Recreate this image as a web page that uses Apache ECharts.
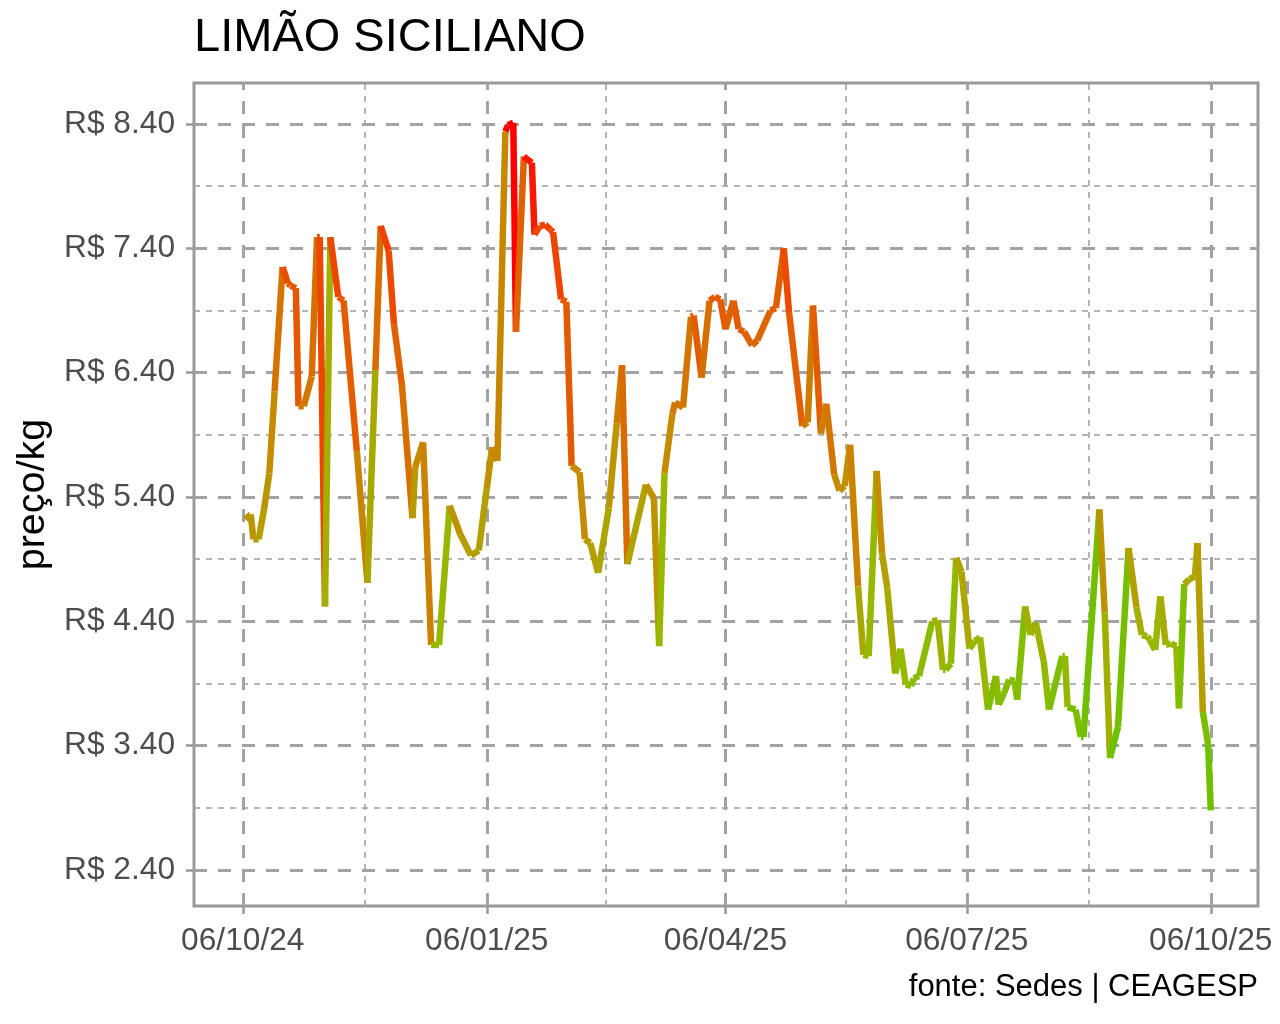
<!DOCTYPE html>
<html>
<head>
<meta charset="utf-8">
<script src="https://cdn.jsdelivr.net/npm/echarts@6/dist/echarts.min.js"></script>
<style>
  html, body { margin: 0; padding: 0; background: #fff; }
  #chart { width: 1280px; height: 1024px; }
</style>
</head>
<body>
<div id="chart"></div>
<script>
// ---- data ----
const dates = [
  '2024-10-07','2024-10-09','2024-10-10','2024-10-12','2024-10-14','2024-10-16','2024-10-18','2024-10-21','2024-10-23','2024-10-24',
  '2024-10-26','2024-10-27','2024-10-29','2024-11-01','2024-11-03','2024-11-04','2024-11-06','2024-11-08','2024-11-11','2024-11-13',
  '2024-11-18','2024-11-22','2024-11-25','2024-11-27','2024-11-30','2024-12-02','2024-12-05','2024-12-09','2024-12-10','2024-12-13',
  '2024-12-16','2024-12-19','2024-12-23','2024-12-27','2024-12-31','2025-01-03','2025-01-06','2025-01-08','2025-01-10','2025-01-13',
  '2025-01-14','2025-01-16','2025-01-17','2025-01-20','2025-01-21','2025-01-23','2025-01-24','2025-01-26','2025-01-28','2025-01-30',
  '2025-01-31','2025-02-03','2025-02-05','2025-02-07','2025-02-10','2025-02-12','2025-02-14','2025-02-17','2025-02-21','2025-02-24',
  '2025-02-26','2025-02-28','2025-03-07','2025-03-10','2025-03-12','2025-03-14','2025-03-17','2025-03-18','2025-03-21','2025-03-24',
  '2025-03-25','2025-03-28','2025-03-31','2025-04-02','2025-04-04','2025-04-06','2025-04-09','2025-04-11','2025-04-13','2025-04-16',
  '2025-04-18','2025-04-23','2025-04-25','2025-04-28','2025-04-30','2025-05-05','2025-05-07','2025-05-09','2025-05-12','2025-05-14',
  '2025-05-17','2025-05-19','2025-05-21','2025-05-23','2025-05-26','2025-05-28','2025-05-30','2025-06-02','2025-06-04','2025-06-06',
  '2025-06-09','2025-06-11','2025-06-13','2025-06-15','2025-06-16','2025-06-18','2025-06-23','2025-06-25','2025-06-27','2025-06-28',
  '2025-06-30','2025-07-02','2025-07-04','2025-07-07','2025-07-09','2025-07-11','2025-07-14','2025-07-17','2025-07-18','2025-07-20',
  '2025-07-22','2025-07-24','2025-07-25','2025-07-28','2025-07-30','2025-08-01','2025-08-04','2025-08-06','2025-08-11','2025-08-12',
  '2025-08-13','2025-08-16','2025-08-18','2025-08-19','2025-08-25','2025-08-27','2025-08-29','2025-09-01','2025-09-05','2025-09-08',
  '2025-09-10','2025-09-12','2025-09-13','2025-09-15','2025-09-17','2025-09-19','2025-09-21','2025-09-23','2025-09-24','2025-09-26',
  '2025-09-28','2025-09-30','2025-10-01','2025-10-03','2025-10-05','2025-10-06'
];
const prices = [
  5.22, 5.26, 5.06, 5.06, 5.30, 5.59, 6.25, 7.25, 7.12, 7.10,
  7.08, 6.13, 6.13, 6.37, 7.49, 7.49, 4.52, 7.49, 7.01, 6.98,
  5.77, 4.71, 6.42, 7.58, 7.38, 6.79, 6.30, 5.23, 5.64, 5.84,
  4.21, 4.21, 5.33, 5.10, 4.93, 4.97, 5.47, 5.80, 5.69, 8.34,
  8.39, 8.41, 6.73, 8.14, 8.12, 8.09, 7.51, 7.58, 7.59, 7.55,
  7.53, 6.99, 6.97, 5.65, 5.60, 5.06, 5.03, 4.79, 5.31, 5.99,
  6.46, 4.86, 5.50, 5.39, 4.20, 5.59, 6.07, 6.16, 6.12, 6.85,
  6.86, 6.36, 6.98, 7.01, 6.99, 6.75, 6.98, 6.75, 6.73, 6.62,
  6.66, 6.90, 6.92, 7.40, 6.88, 5.97, 6.00, 6.94, 5.91, 6.15,
  5.58, 5.45, 5.49, 5.82, 4.68, 4.13, 4.12, 5.61, 4.95, 4.67,
  3.98, 4.18, 3.89, 3.88, 3.94, 3.96, 4.40, 4.41, 4.01, 4.01,
  4.06, 4.91, 4.80, 4.18, 4.24, 4.27, 3.69, 3.96, 3.73, 3.82,
  3.93, 3.92, 3.77, 4.52, 4.29, 4.39, 4.08, 3.69, 4.12, 4.12,
  3.71, 3.69, 3.47, 3.47, 5.30, 4.47, 3.30, 3.55, 4.99, 4.51,
  4.29, 4.28, 4.25, 4.17, 4.60, 4.21, 4.22, 4.20, 3.70, 4.70,
  4.74, 4.76, 5.03, 3.67, 3.41, 2.88
];
const xTickDates = ['2024-10-06', '2025-01-06', '2025-04-06', '2025-07-06', '2025-10-06'];
const yTickValues = [2.4, 3.4, 4.4, 5.4, 6.4, 7.4, 8.4];
const yMinorValues = [2.9, 3.9, 4.9, 5.9, 6.9, 7.9];
const titleText = 'LIMÃO SICILIANO';
const yAxisTitle = 'preço/kg';
const captionText = 'fonte: Sedes | CEAGESP';

// ---- helpers ----
function ts(s) {
  const p = s.split('-').map(Number);
  return new Date(p[0], p[1] - 1, p[2]).getTime();
}
function pad(n) { return (n < 10 ? '0' : '') + n; }
function fmtDate(v) {
  const d = new Date(v);
  return pad(d.getDate()) + '/' + pad(d.getMonth() + 1) + '/' + pad(d.getFullYear() % 100);
}
const colorStops = [
  [2.88, [94, 196, 0]],
  [3.5, [114, 192, 0]],
  [4.2, [152, 184, 0]],
  [4.9, [176, 162, 0]],
  [5.6, [196, 140, 0]],
  [6.3, [214, 112, 0]],
  [7.0, [228, 90, 0]],
  [7.6, [238, 66, 0]],
  [8.41, [255, 0, 0]]
];
function colorFor(v) {
  if (v <= colorStops[0][0]) return 'rgb(' + colorStops[0][1].join(',') + ')';
  for (let i = 1; i < colorStops.length; i++) {
    if (v <= colorStops[i][0]) {
      const a = colorStops[i - 1], b = colorStops[i];
      const t = (v - a[0]) / (b[0] - a[0]);
      const c = a[1].map((x, k) => Math.round(x + (b[1][k] - x) * t));
      return 'rgb(' + c.join(',') + ')';
    }
  }
  return 'rgb(' + colorStops[colorStops.length - 1][1].join(',') + ')';
}

const DAY = 86400000;
const xMajor = xTickDates.map(ts);
const xMinor = [];
for (let i = 0; i < xMajor.length - 1; i++) xMinor.push((xMajor[i] + xMajor[i + 1]) / 2);
const xMin = xMajor[0] - 18.4 * DAY;
const xMax = xMajor[xMajor.length - 1] + 17.8 * DAY;

const segData = [];
for (let i = 0; i < dates.length - 1; i++) {
  segData.push([ts(dates[i]), prices[i], ts(dates[i + 1]), prices[i + 1]]);
}

const GRID = '#a3a3a3';
const majorStyle = { color: GRID, width: 3, type: [13, 11] };
const minorStyle = { color: GRID, width: 1.6, type: [6, 6] };
const FONT = 'Liberation Sans, Arial, sans-serif';

const markData = [];
yMinorValues.forEach(v => markData.push({ yAxis: v, lineStyle: minorStyle }));
xMinor.forEach(v => markData.push({ xAxis: v, lineStyle: minorStyle }));
yTickValues.forEach(v => markData.push({ yAxis: v, lineStyle: majorStyle }));
xMajor.forEach(v => markData.push({ xAxis: v, lineStyle: majorStyle }));

const chart = echarts.init(document.getElementById('chart'), null, { renderer: 'canvas' });
chart.setOption({
  animation: false,
  backgroundColor: '#ffffff',
  title: {
    text: titleText,
    left: 189,
    top: 10,
    textStyle: { fontSize: 47, fontWeight: 'normal', color: '#000', fontFamily: FONT }
  },
  graphic: [{
    type: 'text',
    right: 22,
    top: 972,
    style: { text: captionText, font: '31px ' + FONT, fill: '#000' }
  }],
  grid: {
    left: 194, right: 22, top: 83, bottom: 118,
    outerBoundsMode: 'none',
    containLabel: false,
    show: true, borderColor: '#999999', borderWidth: 3, backgroundColor: 'transparent'
  },
  xAxis: {
    type: 'value',
    min: xMin, max: xMax,
    axisLine: { show: false },
    axisTick: { show: true, customValues: xMajor, length: 8, lineStyle: { color: '#999999', width: 2.5 } },
    axisLabel: {
      customValues: xMajor,
      formatter: v => fmtDate(v),
      fontSize: 31.7, color: '#4d4d4d', fontFamily: FONT, margin: 19
    },
    splitLine: { show: false }
  },
  yAxis: {
    type: 'value',
    min: 2.11, max: 8.73,
    name: yAxisTitle,
    nameLocation: 'middle',
    nameRotate: 90,
    nameGap: 137,
    nameTextStyle: { fontSize: 39.5, color: '#000', fontFamily: FONT },
    axisLine: { show: false },
    axisTick: { show: true, customValues: yTickValues, length: 8, lineStyle: { color: '#999999', width: 2.5 } },
    axisLabel: {
      customValues: yTickValues,
      formatter: v => 'R$ ' + Number(v).toFixed(2),
      fontSize: 31.7, color: '#4d4d4d', fontFamily: FONT, margin: 19
    },
    splitLine: { show: false }
  },
  series: [
    {
      type: 'line',
      z: 1,
      data: [[xMin, null]],
      silent: true,
      symbol: 'none',
      markLine: {
        silent: true,
        symbol: ['none', 'none'],
        label: { show: false },
        animation: false,
        data: markData
      }
    },
    {
      type: 'custom',
      z: 5,
      clip: true,
      data: segData,
      encode: { x: [0, 2], y: [1, 3] },
      renderItem: function (params, api) {
        const p1 = api.coord([api.value(0), api.value(1)]);
        const p2 = api.coord([api.value(2), api.value(3)]);
        return {
          type: 'line',
          shape: { x1: p1[0], y1: p1[1], x2: p2[0], y2: p2[1] },
          style: { stroke: colorFor(api.value(1)), lineWidth: 6.5, lineCap: 'butt' }
        };
      }
    }
  ]
});
</script>
</body>
</html>
